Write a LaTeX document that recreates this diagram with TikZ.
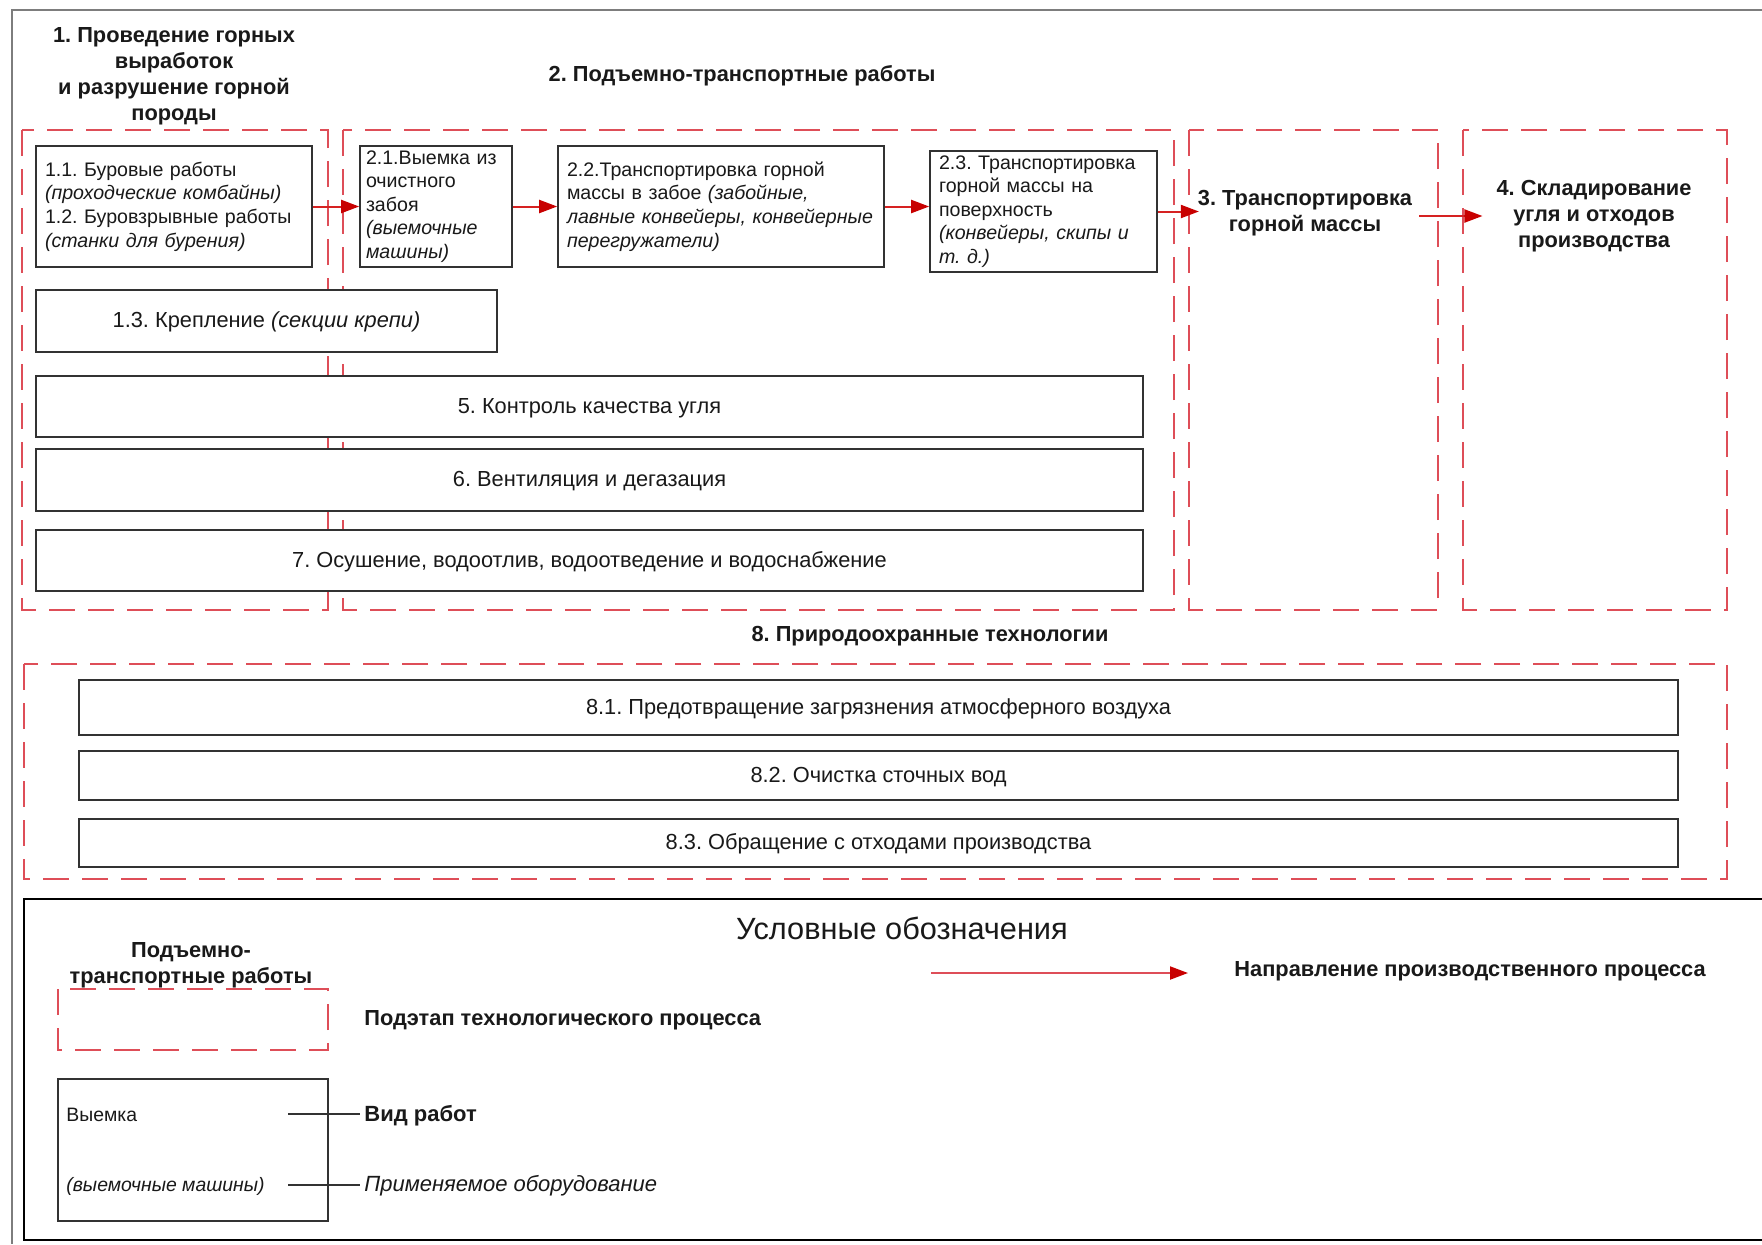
\documentclass[tikz,border=0pt]{standalone}
\usepackage{fontspec}
\setmainfont{Liberation Sans}
\usetikzlibrary{arrows.meta,shadows,calc}
\definecolor{dashred}{RGB}{222,78,88}
\definecolor{arrred}{RGB}{214,34,34}
\definecolor{tipred}{RGB}{200,0,0}
\definecolor{boxline}{RGB}{50,50,50}
\definecolor{txt}{RGB}{25,25,25}
\definecolor{framegray}{RGB}{125,125,125}
\newcommand\fsA{\fontsize{9.8pt}{11.8pt}\selectfont}
\newcommand\fsB{\fontsize{10.9pt}{12.8pt}\selectfont}
\newcommand\fsH{\fontsize{10.9pt}{13pt}\selectfont\bfseries}
\newcommand\fsL{\fontsize{15.35pt}{18pt}\selectfont}
\newcommand\fsS{\fontsize{9.7pt}{11.5pt}\selectfont}
\newcommand\fsM{\fontsize{11pt}{13pt}\selectfont}
\begin{document}
\frenchspacing
\begin{tikzpicture}[x=0.5pt,y=-0.5pt,
  dashbox/.style={draw=dashred, line width=1.1pt, dash pattern=on 13pt off 6.5pt},
  box/.style={draw=boxline, line width=0.8pt, fill=white, text=txt,
    drop shadow={shadow xshift=0.7pt, shadow yshift=-0.7pt, fill=black, opacity=0.25}},
  mbox/.style={box, font=\fsA, align=left, inner xsep=4.5pt, inner ysep=0pt, minimum height=60.5pt},
  sbox/.style={box, font=\fsB, inner sep=0pt, text height=9.2pt, text depth=2.3pt},
  head/.style={font=\fsH, text=txt},
  flow/.style={draw=arrred, line width=1pt, -{Triangle[length=9pt, width=6.5pt, color=tipred]}},
  leader/.style={draw=boxline, line width=0.7pt}
]
\useasboundingbox (0,0) rectangle (1762,1244);
\fill[white] (0,0) rectangle (1762,1244);

% outer frame and legend frame
\draw[framegray, line width=1.2pt] (1762,10) -- (12,10) -- (12,1244);
\draw[black, line width=0.9pt] (1762,899) -- (24,899) -- (24,1240) -- (1762,1240);

% stage (dashed) boxes
\draw[dashbox] (22,130) rectangle (328,610);
\draw[dashbox] (343,130) rectangle (1174,610);
\draw[dashbox] (1189,130) rectangle (1438,610);
\draw[dashbox] (1463,130) rectangle (1727,610);
\draw[dashbox] (24,664) rectangle (1727,879);

% headings
\node[head, align=center] (t1) at (174,76.5) {1. Проведение горных\\ выработок\\ и разрушение горной\\ породы};
\node[head] (t2) at (742,76) {2. Подъемно-транспортные работы};
\node[head, align=center] (t3) at (1305,213) {3. Транспортировка\\ горной массы};
\node[head, align=center] (t4) at (1594,216) {4. Складирование\\ угля и отходов\\ производства};
\node[head] (t8) at (930,636) {8. Природоохранные технологии};

% work boxes
\node[mbox, text width=129pt] (b11) at (174,206.5)
  {1.1. Буровые работы\\ \textit{(проходческие комбайны)}\\ 1.2. Буровзрывные работы\\ \textit{(станки для бурения)}};
\node[mbox, text width=70pt, inner xsep=3pt] (b21) at (436,206.5)
  {2.1.Выемка из\\ очистного\\ забоя\\ \textit{(выемочные}\\ \textit{машины)}};
\node[mbox, text width=154pt] (b22) at (721,206.5)
  {2.2.Транспортировка горной\\ массы в забое \textit{(забойные,}\\ \textit{лавные конвейеры, конвейерные}\\ \textit{перегружатели)}};
\node[mbox, text width=104.5pt] (b23) at (1043.5,211.5)
  {2.3. Транспортировка\\ горной массы на\\ поверхность\\ \textit{(конвейеры, скипы и}\\ \textit{т. д.)}};

\node[sbox, minimum width=230.5pt, minimum height=31pt] (b13) at (266.5,321) {1.3. Крепление \textit{(секции крепи)}};
\node[sbox, minimum width=553.5pt, minimum height=30.5pt] (b5) at (589.5,406.5) {5. Контроль качества угля};
\node[sbox, minimum width=553.5pt, minimum height=31pt] (b6) at (589.5,480) {6. Вентиляция и дегазация};
\node[sbox, minimum width=553.5pt, minimum height=30.5pt] (b7) at (589.5,560.5) {7. Осушение, водоотлив, водоотведение и водоснабжение};

\node[sbox, minimum width=799.5pt, minimum height=27.5pt] (b81) at (878.5,707.5) {8.1. Предотвращение загрязнения атмосферного воздуха};
\node[sbox, minimum width=799.5pt, minimum height=24.5pt] (b82) at (878.5,775.5) {8.2. Очистка сточных вод};
\node[sbox, minimum width=799.5pt, minimum height=24pt] (b83) at (878.5,843) {8.3. Обращение с отходами производства};

% process arrows
\draw[flow] (b11.east) -- (b21.west);
\draw[flow] (b21.east) -- (b22.west);
\draw[flow] (b22.east) -- (b22.east -| b23.west);
\draw[flow, shorten >=-4pt] (b23.east) -- (b23.east -| t3.west);
\draw[flow, shorten >=3.5pt] (t3.east |- t4.west) -- (t4.west);

% legend
\node[font=\fsL, text=txt] (lt) at (902,928) {Условные обозначения};
\node[head, align=center] (lh) at (191,965) {Подъемно-\\ транспортные работы};
\draw[dashbox] (58,989) rectangle (328,1050);
\node[head, anchor=west, inner sep=2pt] (ld) at (360,1020) {Подэтап технологического процесса};

\coordinate (la1) at (931,973);
\coordinate (la2) at (1188,973);
\draw[flow, draw=dashred] (la1) -- (la2);
\node[head, anchor=west, inner sep=2pt] (la) at (1230,971) {Направление производственного процесса};

\node[box, minimum width=135pt, minimum height=71pt] (lb) at (193,1150) {};
\node[font=\fsS, text=txt, anchor=west, inner sep=2pt] (lv) at (62,1115) {Выемка};
\node[font=\fsS, text=txt, anchor=west, inner sep=2pt] (lm) at (62,1186) {\textit{(выемочные машины)}};
\node[font=\fsM\bfseries, text=txt, anchor=west, inner sep=2pt] (vr) at (360,1116) {Вид работ};
\node[font=\fsM, text=txt, anchor=west, inner sep=2pt] (po) at (360,1186) {\textit{Применяемое оборудование}};
\coordinate (lc1) at (288,1114);
\coordinate (lc2) at (288,1185);
\draw[leader] (lc1) -- (lc1 -| vr.west);
\draw[leader] (lc2) -- (lc2 -| po.west);
\end{tikzpicture}
\end{document}
